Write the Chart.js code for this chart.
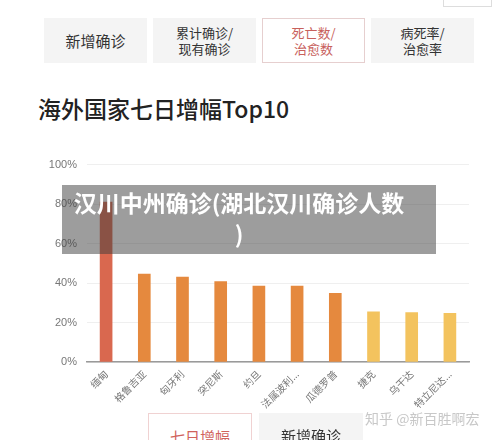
<!DOCTYPE html>
<html>
<head>
<meta charset="utf-8">
<script src="https://cdn.jsdelivr.net/npm/chart.js@4/dist/chart.umd.min.js"></script>
<style>
  body { margin: 0; width: 500px; height: 440px; background: #fff; position: relative; overflow: hidden;
         font-family: "Noto Sans CJK SC", "Noto Sans", sans-serif; }
  .tab { position: absolute; top: 18px; height: 45px; width: 103px; background: #f4f4f4; color: #333;
         display: flex; align-items: center; justify-content: center; text-align: center;
         font-size: 13px; line-height: 16px; box-sizing: border-box; }
  .tab.on { background: #fff; border: 1px solid #e6cfcf; color: #c8605c; }
  .title { position: absolute; left: 38px; top: 91px; font-size: 23px; font-weight: 500; color: #222; }
  .box { position: absolute; left: 0; top: 148px; width: 480px; height: 287px; }
  .overlay { position: absolute; left: 62px; top: 185px; width: 374px; height: 69px;
             background: rgba(60,60,60,0.5); color: #fff; font-weight: bold; font-size: 23px;
             line-height: 31px; text-align: center; padding: 2px 20px 0 0; box-sizing: border-box; }
  .btn { position: absolute; top: 413px; height: 40px; width: 104px; box-sizing: border-box;
         font-size: 15px; text-align: center; padding-top: 12px; }
  .mark { position: absolute; left: 365px; top: 408px; font-size: 14px; color: #c8c8c8; }
</style>
</head>
<body>
<div class="tab" style="left:44px;font-size:15px">新增确诊</div>
<div class="tab" style="left:153px">累计确诊/<br>现有确诊</div>
<div class="tab on" style="left:262px">死亡数/<br>治愈数</div>
<div class="tab" style="left:371px">病死率/<br>治愈率</div>
<div style="position:absolute;left:443px;top:-2px;width:47px;height:8px;border:1px solid #ddd;border-top:none"></div>
<div class="title">海外国家七日增幅Top10</div>
<div class="box"><canvas id="growth-chart"></canvas></div>
<div class="overlay">汉川中州确诊(湖北汉川确诊人数<br>)</div>
<div class="btn" style="left:148px;border:1px solid #f0d2d2;color:#d0625c;background:#fff">七日增幅</div>
<div class="btn" style="left:259px;background:#f4f4f4;color:#333">新增确诊</div>
<div class="mark">知乎 @新百胜啊宏</div>

<script>
// 海外国家七日增幅 Top10
var countries = ["缅甸", "格鲁吉亚", "匈牙利", "突尼斯", "约旦", "法属波利尼西亚", "瓜德罗普", "捷克", "乌干达", "特立尼达和多巴哥"];
var growth = [81, 44.5, 43, 40.7, 38.4, 38.4, 34.8, 25.4, 25, 24.7];
var yTicks = [0, 20, 40, 60, 80, 100];

var barColors = ["#d9684f", "#e5893e", "#e5893e", "#e5893e", "#e5893e", "#e5893e", "#e5893e", "#f3c35e", "#f3c35e", "#f3c35e"];

var ctx = document.getElementById('growth-chart');
if (ctx != null) {
    var myChart = new Chart(ctx.getContext('2d'), {
        type: 'bar',
        data: {
            labels: countries,
            datasets: [{
                label: '七日增幅',
                data: growth,
                backgroundColor: barColors,
                barThickness: 12
            }]
        },
        options: {
            responsive: true,
            maintainAspectRatio: false,
            animation: false,
            layout: { padding: { top: 2, right: 11, left: 0, bottom: 0 } },
            plugins: { legend: { display: false }, tooltip: { enabled: false } },
            scales: {
                x: {
                    grid: { display: false, drawTicks: false },
                    border: { color: '#9a9a9a', width: 1.5 },
                    ticks: {
                        color: '#777', font: { size: 10, family: '"Noto Sans CJK SC"' },
                        maxRotation: 45, minRotation: 45, padding: 6,
                        callback: function (v, i) {
                            var s = countries[i];
                            return s.length > 5 ? s.slice(0, 4) + '...' : s;
                        }
                    },
                    afterFit: function (s) { s.height = 73; }
                },
                y: {
                    min: 0, max: 100,
                    afterBuildTicks: function (s) { s.ticks = yTicks.map(function (v) { return { value: v }; }); },
                    grid: { color: '#efefef', drawTicks: false },
                    border: { display: false },
                    ticks: {
                        color: '#777', font: { size: 11, family: '"Liberation Sans", Arial' }, padding: 10,
                        callback: function (v) { return v + '%'; }
                    },
                    afterFit: function (s) { s.width = 87; }
                }
            }
        }
    });
}
</script>
</body>
</html>
